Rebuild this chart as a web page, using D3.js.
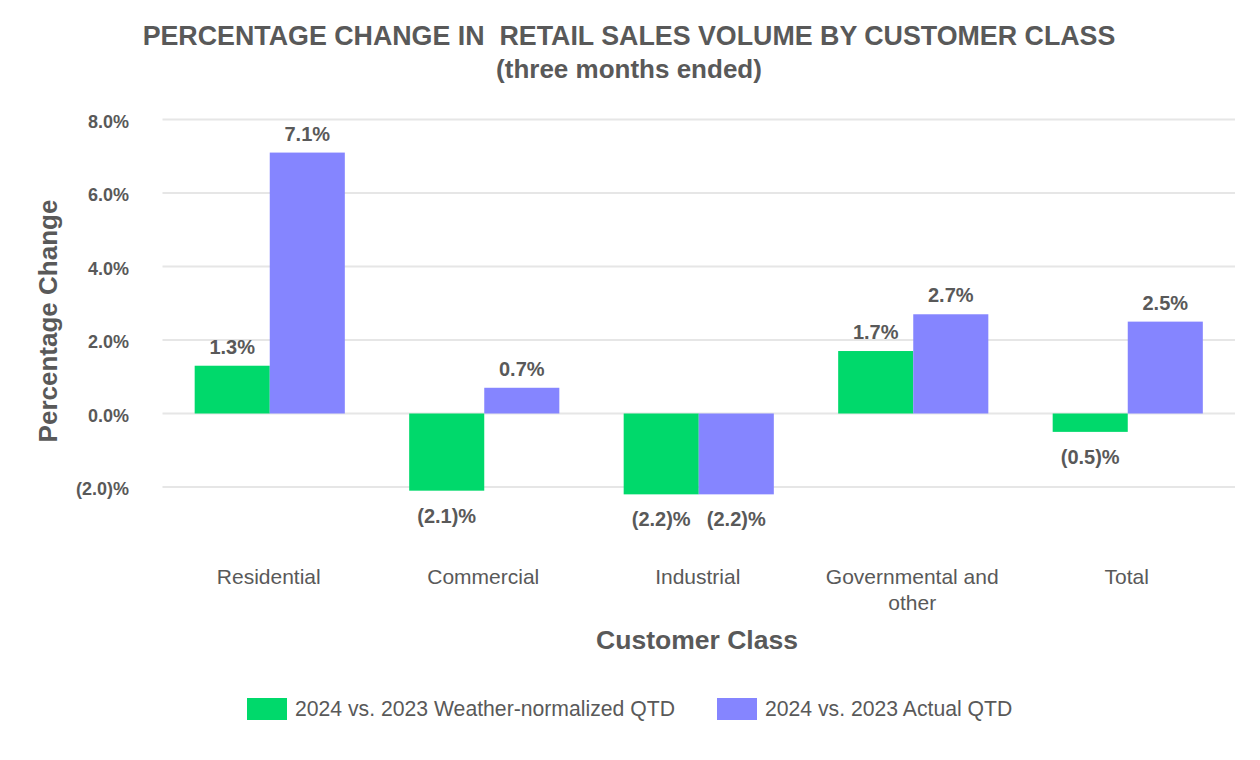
<!DOCTYPE html>
<html><head><meta charset="utf-8">
<script src="https://cdn.jsdelivr.net/npm/d3@7"></script>
<style>body{margin:0;background:#fff}svg{display:block;font-family:"Liberation Sans",Arial,sans-serif}</style>
</head><body><svg id="c" width="1260" height="760"></svg>
<script>
const categories = [["Residential"],["Commercial"],["Industrial"],["Governmental and","other"],["Total"]];
const seriesNames = ["2024 vs. 2023 Weather-normalized QTD","2024 vs. 2023 Actual QTD"];
const weatherNormalized = [1.3,-2.1,-2.2,1.7,-0.5];
const actual = [7.1,0.7,-2.2,2.7,2.5];
const yTicks = [-2,0,2,4,6,8];
const colors = ["#00d96b","#8585ff"];
const textColor = "#595959";

const svg = d3.select("#c");
const x = d3.scaleBand().domain(d3.range(categories.length)).range([162.5,1235]).paddingInner(0.3).paddingOuter(0.15);
const xs = d3.scaleBand().domain([0,1]).range([0,x.bandwidth()]);
const y = d3.scaleLinear().domain([-2,8]).range([487,119.5]);
const fmt = v => v<0 ? "(" + Math.abs(v).toFixed(1) + ")%" : v.toFixed(1) + "%";

// gridlines
svg.append("g").selectAll("line").data(yTicks).join("line")
  .attr("x1",162.5).attr("x2",1235).attr("y1",d=>y(d)).attr("y2",d=>y(d))
  .attr("stroke","#e6e6e6").attr("stroke-width",2);
// y tick labels
svg.append("g").selectAll("text").data(yTicks).join("text")
  .attr("x",129).attr("y",d=>y(d)+2).attr("dy","0.35em").attr("text-anchor","end")
  .attr("font-size",18).attr("font-weight","bold").attr("fill",textColor).text(fmt);

const series = [weatherNormalized, actual];
series.forEach((vals,si)=>{
  const g = svg.append("g");
  g.selectAll("rect").data(vals).join("rect")
    .attr("x",(d,i)=>x(i)+xs(si)).attr("width",xs.bandwidth())
    .attr("y",d=>y(Math.max(0,d))).attr("height",d=>Math.abs(y(d)-y(0)))
    .attr("fill",colors[si]);
  g.selectAll("text").data(vals).join("text")
    .attr("x",(d,i)=>x(i)+xs(si)+xs.bandwidth()/2)
    .attr("y",d=>d>=0 ? y(d)-12 : y(d)+32)
    .attr("text-anchor","middle").attr("font-size",20).attr("font-weight","bold")
    .attr("fill",textColor).text(fmt);
});

// x labels
const xl = svg.append("g").selectAll("text").data(categories).join("text")
  .attr("x",(d,i)=>x(i)+x.bandwidth()/2-1).attr("y",584)
  .attr("text-anchor","middle").attr("font-size",21).attr("fill",textColor);
xl.selectAll("tspan").data(d=>d).join("tspan")
  .attr("x",function(){return this.parentNode.getAttribute("x");})
  .attr("dy",(d,i)=>i?26:0).text(d=>d);

// axis titles
svg.append("text").attr("x",697).attr("y",649).attr("text-anchor","middle")
  .attr("font-size",26.5).attr("font-weight","bold").attr("fill",textColor).text("Customer Class");
svg.append("text").attr("transform","translate(57,321) rotate(-90)").attr("text-anchor","middle")
  .attr("font-size",26).attr("font-weight","bold").attr("fill",textColor).text("Percentage Change");

// title
svg.append("text").attr("x",629).attr("y",45).attr("text-anchor","middle")
  .attr("font-size",26.8).attr("font-weight","bold").attr("fill",textColor)
  .attr("xml:space","preserve").style("white-space","pre")
  .text("PERCENTAGE CHANGE IN  RETAIL SALES VOLUME BY CUSTOMER CLASS");
svg.append("text").attr("x",629).attr("y",78).attr("text-anchor","middle")
  .attr("font-size",26).attr("font-weight","bold").attr("fill",textColor).text("(three months ended)");

// legend
const legX = [247,717];
const lg = svg.append("g").selectAll("g").data(seriesNames).join("g")
  .attr("transform",(d,i)=>`translate(${legX[i]},698)`);
lg.append("rect").attr("width",40).attr("height",22).attr("fill",(d,i)=>colors[i]);
lg.append("text").attr("x",48).attr("y",11).attr("dy","0.35em").attr("font-size",21.2)
  .attr("fill",textColor).text(d=>d);
</script></body></html>
